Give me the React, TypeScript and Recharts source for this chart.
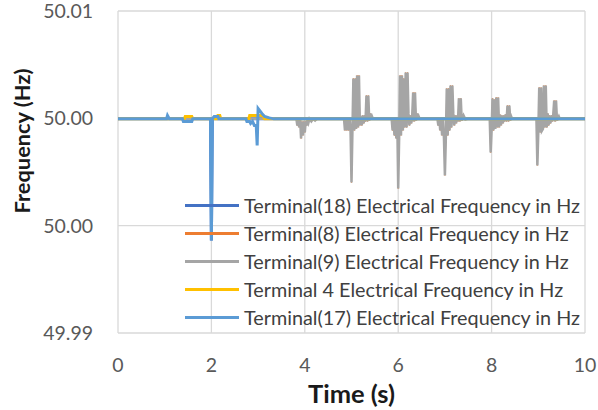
import { LineChart, Line, XAxis, YAxis, CartesianGrid, Legend, Label } from 'recharts';

const FONT = 'Lato, "Open Sans", sans-serif';

// x axis (s) and y axis (Hz) ticks, Excel-style 49.99 .. 50.01 in 3 steps
const xTicks = [0, 2, 4, 6, 8, 10];
const yTicks = [49.99, 49.99667, 50.00333, 50.01];

// Terminal(9): oscillation bursts after each switching event
const time9 = [
  0, 3.82,
  3.84, 3.86, 3.88, 3.9, 3.92, 3.94, 3.96, 3.98, 4.0, 4.02, 4.04, 4.06, 4.08, 4.1, 4.14, 4.18, 4.22, 4.26,
  4.84, 4.86, 4.88, 4.9, 4.92, 4.94, 4.96, 4.98, 5.0, 5.02, 5.04, 5.06, 5.08, 5.1, 5.12, 5.14, 5.16, 5.18,
  5.2, 5.22, 5.24, 5.26, 5.28, 5.3, 5.32, 5.34, 5.36, 5.38, 5.4, 5.42, 5.44, 5.46,
  5.86, 5.88, 5.9, 5.92, 5.94, 5.96, 5.98, 6.0, 6.02, 6.04, 6.06, 6.08, 6.1, 6.12, 6.14, 6.16, 6.18,
  6.2, 6.22, 6.24, 6.26, 6.28, 6.3, 6.32, 6.34, 6.36, 6.38, 6.4, 6.42, 6.44, 6.46,
  6.84, 6.86, 6.88, 6.9, 6.92, 6.94, 6.96, 6.98, 7.0, 7.02, 7.04, 7.06, 7.08, 7.1, 7.12, 7.14, 7.16, 7.18,
  7.2, 7.22, 7.24, 7.26, 7.28, 7.3, 7.32, 7.34, 7.36, 7.4, 7.44, 7.48,
  7.96, 7.98, 8.0, 8.02, 8.04, 8.06, 8.08, 8.1, 8.12, 8.14, 8.16, 8.18, 8.2, 8.22, 8.24, 8.26, 8.28,
  8.3, 8.32, 8.34, 8.36, 8.38, 8.4, 8.42, 8.44,
  8.96, 8.98, 9.0, 9.02, 9.04, 9.06, 9.08, 9.1, 9.12, 9.14, 9.16, 9.18, 9.2, 9.22, 9.24, 9.26, 9.28,
  9.3, 9.32, 9.34, 9.36, 9.38, 9.4, 9.44, 9.46,
  10,
];
const freq9 = [
  50.0033, 50.0033,
  50.00289, 50.0033, 50.00277, 50.0033, 50.00208, 50.00314, 50.00227, 50.00314, 50.00246, 50.00314, 50.00289, 50.0033, 50.00308, 50.0033, 50.00314, 50.0033, 50.0032, 50.0033,
  50.0033, 50.00258, 50.0033, 50.00258, 50.0033, 50.00258, 50.0033, 50.00252, 49.99935, 50.00258, 50.00581, 50.00258, 50.00581, 50.00268, 50.006, 50.00277, 50.006, 50.00289,
  50.00345, 50.00289, 50.00351, 50.00302, 50.00351, 50.00314, 50.00475, 50.00314, 50.00475, 50.0032, 50.00364, 50.00326, 50.00345, 50.0033,
  50.0033, 50.00258, 50.0033, 50.00227, 50.0033, 50.00208, 50.0033, 49.99898, 50.00208, 50.006, 50.00227, 50.006, 50.00258, 50.00581, 50.00277, 50.00618, 50.00277,
  50.00618, 50.00364, 50.00289, 50.00351, 50.00302, 50.00351, 50.00494, 50.00314, 50.00494, 50.0032, 50.00364, 50.00326, 50.00345, 50.0033,
  50.0033, 50.00289, 50.0033, 50.00258, 50.0033, 50.00227, 50.0033, 50.00208, 49.99979, 50.00208, 50.00519, 50.00227, 50.00519, 50.00258, 50.00537, 50.00277, 50.00537, 50.00364,
  50.00289, 50.00351, 50.00302, 50.00351, 50.00314, 50.00457, 50.00314, 50.00457, 50.0032, 50.00351, 50.00326, 50.0033,
  50.0033, 50.00121, 50.00258, 50.00457, 50.00258, 50.0045, 50.00268, 50.00463, 50.00277, 50.00463, 50.00277, 50.00357, 50.00289, 50.00351, 50.00302, 50.00351, 50.00314,
  50.00357, 50.00314, 50.00413, 50.00314, 50.00413, 50.0032, 50.00345, 50.0033,
  50.0033, 50.00041, 50.00246, 50.00525, 50.00246, 50.00525, 50.00258, 50.00268, 50.00537, 50.00277, 50.00537, 50.00277, 50.00364, 50.00289, 50.00351, 50.00302, 50.00351,
  50.00314, 50.00357, 50.00444, 50.00314, 50.00444, 50.0032, 50.00345, 50.0033,
  50.0033,
];

// Terminal(8) sits right under Terminal(9)
const time8 = time9;
const freq8 = freq9;

// Terminal(17): fault dip at 2 s, recovery kick at 3 s
const time17 = [0, 1.04, 1.06, 1.1, 1.38, 1.4, 1.58, 1.6, 1.98, 2.0, 2.02, 2.06, 2.14, 2.16, 2.74, 2.76, 2.82, 2.84, 2.88, 2.92, 2.96, 2.98, 3.0, 3.04, 3.08, 3.14, 3.24, 3.34, 10];
const freq17 = [50.0033, 50.0033, 50.00351, 50.0033, 50.0033, 50.00314, 50.00314, 50.0033, 50.0033, 49.99575, 50.0033, 50.00345, 50.00345, 50.0033, 50.0033, 50.00314, 50.00314, 50.00302, 50.00314, 50.00289, 50.00289, 50.00165, 50.00395, 50.0038, 50.00364, 50.00345, 50.00336, 50.0033, 50.0033];

const time18 = [0, 1.98, 2.0, 2.02, 10];
const freq18 = [50.0033, 50.0033, 49.99575, 50.0033, 50.0033];

const time4 = [0, 1.42, 1.44, 1.58, 1.6, 2.12, 2.14, 2.18, 2.2, 2.8, 2.82, 3.1, 3.14, 10];
const freq4 = [50.0033, 50.0033, 50.00345, 50.00345, 50.0033, 50.0033, 50.00351, 50.00351, 50.0033, 50.0033, 50.00351, 50.00351, 50.0033, 50.0033];

const zip = (t: number[], f: number[]) => t.map((x, i) => ({ t: x, f: f[i] }));

const series = [
  { name: 'Terminal(18) Electrical Frequency in Hz', color: '#4472C4', width: 3, data: zip(time18, freq18) },
  { name: 'Terminal(8) Electrical Frequency in Hz', color: '#ED7D31', width: 1, data: zip(time8, freq8) },
  { name: 'Terminal(9) Electrical Frequency in Hz', color: '#A5A5A5', width: 2.5, data: zip(time9, freq9) },
  { name: 'Terminal 4 Electrical Frequency in Hz', color: '#FFC000', width: 3, data: zip(time4, freq4) },
  { name: 'Terminal(17) Electrical Frequency in Hz', color: '#5B9BD5', width: 3, data: zip(time17, freq17) },
];

function renderLegend() {
  return (
    <div style={{ fontFamily: FONT, fontSize: 19.8, color: '#404040' }}>
      {series.map((s) => (
        <div key={s.name} style={{ display: 'flex', alignItems: 'center', height: 28, whiteSpace: 'nowrap' }}>
          <div style={{ width: 54, height: 3, marginLeft: 2, backgroundColor: s.color }} />
          <span style={{ marginLeft: 5 }}>{s.name}</span>
        </div>
      ))}
    </div>
  );
}

export default function App() {
  return (
    <div style={{ position: 'absolute', left: 0, top: 0, width: 598, height: 410, background: '#fff' }}>
      <LineChart width={598} height={410} margin={{ top: 11, right: 13, left: 0, bottom: 0 }}>
        <CartesianGrid stroke="#D9D9D9" strokeWidth={1.3} />
        <XAxis
          type="number"
          dataKey="t"
          domain={[0, 10]}
          ticks={xTicks}
          height={77}
          axisLine={false}
          tickLine={false}
          tickSize={0}
          tickMargin={25}
          tick={{ fontSize: 19.5, fill: '#595959', fontFamily: FONT }}
        >
          <Label
            value="Time (s)"
            position="insideBottom"
            offset={7}
            style={{ fontSize: 25.5, fontWeight: 700, fill: '#1a1a1a', fontFamily: FONT }}
          />
        </XAxis>
        <YAxis
          type="number"
          domain={[49.99, 50.01]}
          ticks={yTicks}
          allowDataOverflow
          width={118}
          axisLine={false}
          tickLine={false}
          tickSize={0}
          tickMargin={25}
          tickFormatter={(v: number) => v.toFixed(2)}
          tick={{ fontSize: 19.5, fill: '#595959', fontFamily: FONT }}
        >
          <Label
            content={() => (
              <text
                transform="translate(30,141) rotate(-90)"
                textAnchor="middle"
                style={{ fontSize: 21.8, fontWeight: 700, fill: '#1a1a1a', fontFamily: FONT }}
              >
                Frequency (Hz)
              </text>
            )}
          />
        </YAxis>
        <Legend
          layout="vertical"
          align="center"
          verticalAlign="middle"
          content={renderLegend}
          wrapperStyle={{ left: 183, top: 191, width: 415 }}
        />
        {series.map((s) => (
          <Line
            key={s.name}
            data={s.data}
            dataKey="f"
            name={s.name}
            type="linear"
            stroke={s.color}
            strokeWidth={s.width}
            dot={false}
            activeDot={false}
            isAnimationActive={false}
          />
        ))}
      </LineChart>
    </div>
  );
}
